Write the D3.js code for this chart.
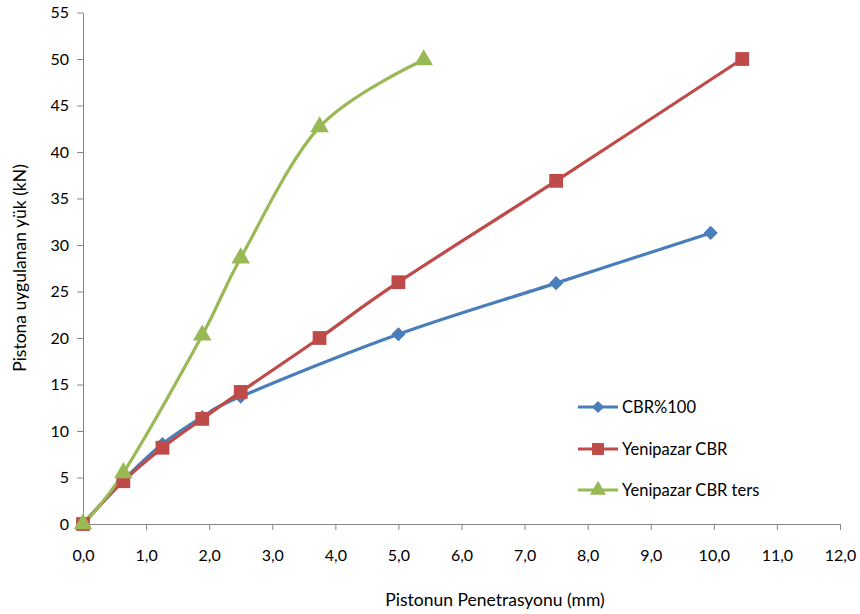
<!DOCTYPE html>
<html><head><meta charset="utf-8">
<script src="https://cdn.jsdelivr.net/npm/d3@7"></script>
<style>body{margin:0;background:#fff}svg{display:block}text{font-family:Lato,"Open Sans",sans-serif;fill:#000}</style>
</head><body><svg id="c" width="860" height="614"></svg>
<script>
const seriesNames = ["CBR%100", "Yenipazar CBR", "Yenipazar CBR ters"];
const seriesColors = ["#4A7EBB", "#BE4B48", "#98B954"];
const blueX = [0, 0.64, 1.26, 1.89, 2.5, 5.0, 7.5, 9.95];
const blueY = [0, 4.7, 8.6, 11.5, 13.7, 20.4, 25.9, 31.3];
const redX = [0, 0.64, 1.26, 1.89, 2.5, 3.75, 5.0, 7.5, 10.45];
const redY = [0, 4.6, 8.2, 11.3, 14.2, 20.0, 26.0, 36.9, 50.0];
const greenX = [0, 0.64, 1.89, 2.5, 3.75, 5.4];
const greenY = [0, 5.5, 20.3, 28.6, 42.7, 49.9];
const xTicks = [0,1,2,3,4,5,6,7,8,9,10,11,12];
const yTicks = [0,5,10,15,20,25,30,35,40,45,50,55];

const svg = d3.select("#c");
const x = d3.scaleLinear().domain([0,12]).range([83, 840]);
const y = d3.scaleLinear().domain([0,55]).range([524, 12.5]);
const axisColor = "#868686";

const xa = svg.append("g").attr("transform","translate(0,524)")
  .call(d3.axisBottom(x).tickValues(xTicks).tickSize(6).tickSizeOuter(0).tickFormat(d=>d3.format(".1f")(d).replace(".",",")));
xa.select(".domain").attr("stroke",axisColor);
xa.selectAll(".tick line").attr("stroke",axisColor);
xa.selectAll("text").attr("font-size",16).attr("dy","1.75em").style("font-family","Lato,sans-serif");

const ya = svg.append("g").attr("transform","translate(83,0)")
  .call(d3.axisLeft(y).tickValues(yTicks).tickSize(6).tickSizeOuter(0));
ya.select(".domain").attr("stroke",axisColor);
ya.selectAll(".tick line").attr("stroke",axisColor);
ya.selectAll("text").attr("font-size",16).attr("x",-14).style("font-family","Lato,sans-serif");

svg.append("text").attr("x",495).attr("y",606).attr("text-anchor","middle").attr("font-size",17.5).text("Pistonun Penetrasyonu (mm)");
svg.append("text").attr("transform","translate(26,268) rotate(-90)").attr("text-anchor","middle").attr("font-size",17.5).text("Pistona uygulanan yük (kN)");

const data = [
  blueX.map((v,i)=>[v,blueY[i]]),
  redX.map((v,i)=>[v,redY[i]]),
  greenX.map((v,i)=>[v,greenY[i]])
];
const line = d3.line().x(d=>x(d[0])).y(d=>y(d[1])).curve(d3.curveCatmullRom.alpha(0));
const symbols = [d3.symbolSquare, d3.symbolSquare, d3.symbolTriangle];
const rot = [45, 0, 0];
const sizes = [100, 190, 150];

data.forEach((s,i)=>{
  svg.append("path").datum(s).attr("d",line).attr("fill","none").attr("stroke",seriesColors[i]).attr("stroke-width",3.2).attr("stroke-linejoin","round");
});
data.forEach((s,i)=>{
  svg.append("g").selectAll("path").data(s).join("path")
    .attr("transform",d=>`translate(${x(d[0])},${y(d[1])}) rotate(${rot[i]})`)
    .attr("d",d3.symbol().type(symbols[i]).size(sizes[i])).attr("fill",seriesColors[i]);
});

const legY = [407, 449, 490];
seriesNames.forEach((n,i)=>{
  const g = svg.append("g").attr("transform",`translate(0,${legY[i]})`);
  g.append("line").attr("x1",578).attr("x2",618).attr("stroke",seriesColors[i]).attr("stroke-width",3.2);
  g.append("path").attr("transform",`translate(598,0) rotate(${rot[i]})`).attr("d",d3.symbol().type(symbols[i]).size(sizes[i]*0.75)).attr("fill",seriesColors[i]);
  g.append("text").attr("x",622).attr("y",6).attr("font-size",16.5).text(n);
});
</script></body></html>
